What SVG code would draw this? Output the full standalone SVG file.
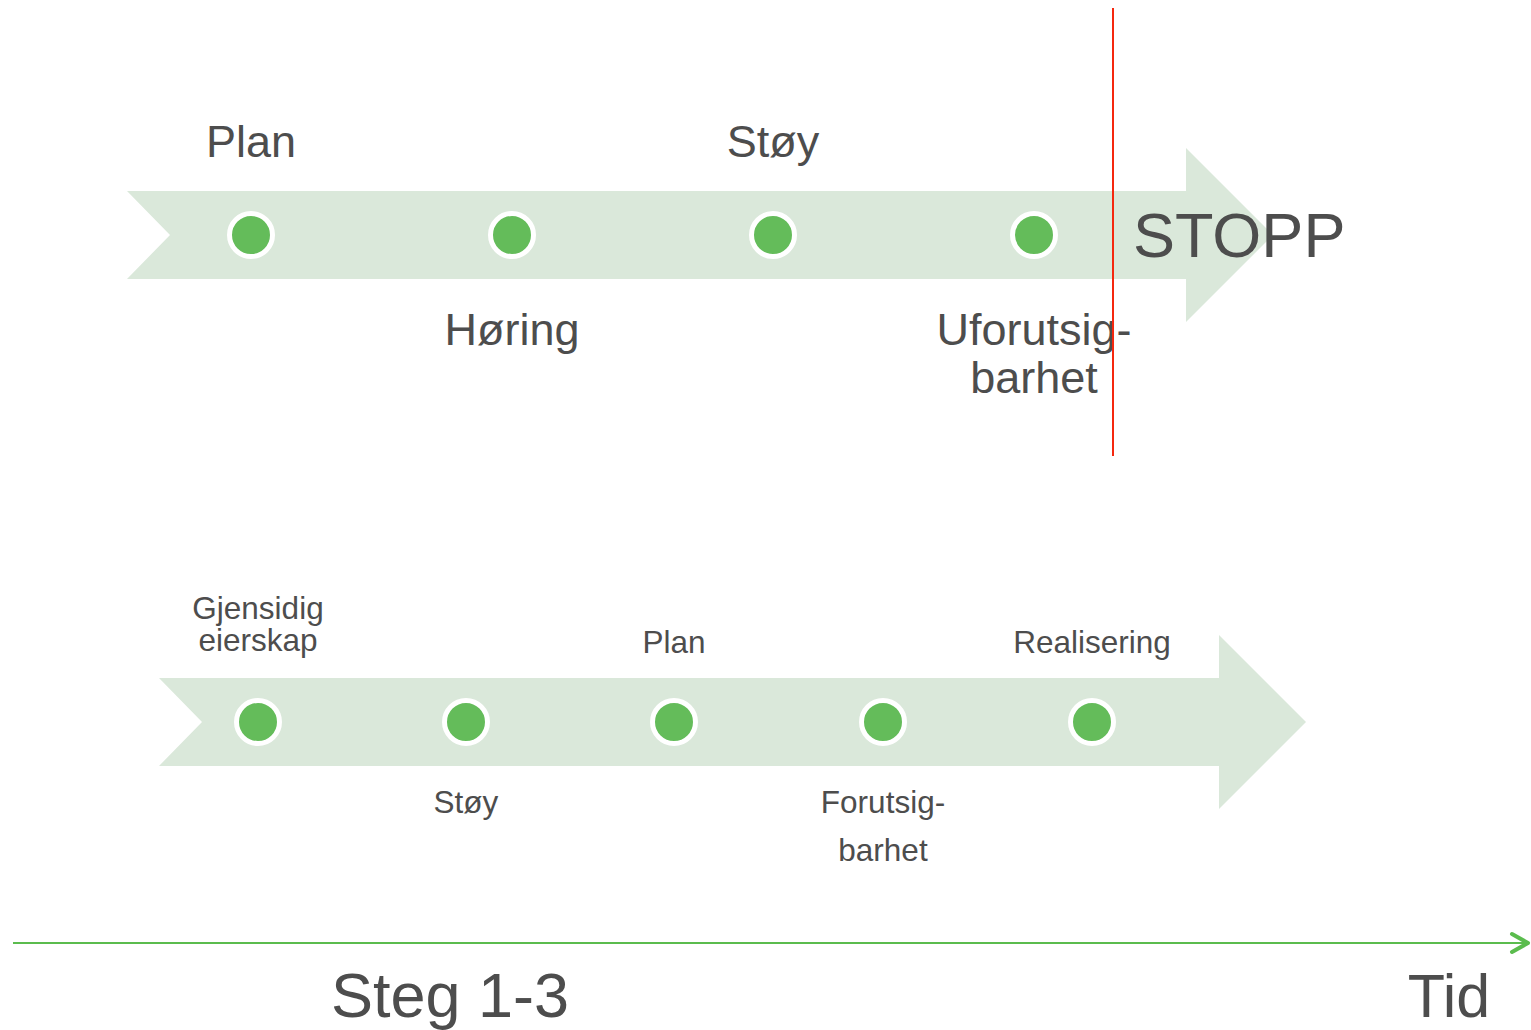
<svg xmlns="http://www.w3.org/2000/svg" width="1531" height="1030" viewBox="0 0 1531 1030">
<style>
.band{fill:#DAE8DA}
.dot{fill:#64BC5A;stroke:#FFFFFF;stroke-width:5}
.t{font-family:"Liberation Sans",Arial,sans-serif;fill:#4D4D4D;text-anchor:middle}
.big{font-size:45px}
.sm{font-size:31.5px}
</style>
<rect width="1531" height="1030" fill="#FFFFFF"/>
<g id="arrow-top">
<polygon class="band" points="127,191 1186,191 1186,148 1273,235 1186,322 1186,279 127,279 170,235"/>
</g>
<g id="arrow-bottom">
<polygon class="band" points="159,678 1219,678 1219,635 1306,722 1219,809 1219,766 159,766 202,722"/>
</g>
<g id="node-plan"><circle class="dot" cx="251" cy="235" r="21.5"/><text class="t big" x="251" y="157">Plan</text></g>
<g id="node-horing"><circle class="dot" cx="512" cy="235" r="21.5"/><text class="t big" x="512" y="345">Høring</text></g>
<g id="node-stoy"><circle class="dot" cx="773" cy="235" r="21.5"/><text class="t big" x="773" y="157">Støy</text></g>
<g id="node-uforutsig"><circle class="dot" cx="1034" cy="235" r="21.5"/><text class="t big" x="1034" y="345">Uforutsig-</text><text class="t big" x="1034" y="393">barhet</text></g>
<g id="stopp"><text class="t" style="font-size:63px;text-anchor:start" x="1133" y="257">STOPP</text></g>
<g id="b-eierskap"><circle class="dot" cx="258" cy="722" r="21.5"/><text class="t sm" x="258" y="619">Gjensidig</text><text class="t sm" x="258" y="651">eierskap</text></g>
<g id="b-stoy"><circle class="dot" cx="466" cy="722" r="21.5"/><text class="t sm" x="466" y="813">Støy</text></g>
<g id="b-plan"><circle class="dot" cx="674" cy="722" r="21.5"/><text class="t sm" x="674" y="653">Plan</text></g>
<g id="b-forutsig"><circle class="dot" cx="883" cy="722" r="21.5"/><text class="t sm" x="883" y="813">Forutsig-</text><text class="t sm" x="883" y="861">barhet</text></g>
<g id="b-realisering"><circle class="dot" cx="1092" cy="722" r="21.5"/><text class="t sm" x="1092" y="653">Realisering</text></g>
<g id="connectors">
<line x1="1113" y1="8" x2="1113" y2="456" stroke="#F5280F" stroke-width="2"/>
<line x1="13" y1="943" x2="1527" y2="943" stroke="#5BBC4E" stroke-width="2"/>
<polyline points="1512,934 1528,943 1512,952" fill="none" stroke="#5BBC4E" stroke-width="4" stroke-linecap="round" stroke-linejoin="round"/>
</g>
<g id="labels">
<text class="t" style="font-size:63px" x="450" y="1017">Steg 1-3</text>
<text class="t" style="font-size:61px" x="1449" y="1017">Tid</text>
</g>
</svg>
